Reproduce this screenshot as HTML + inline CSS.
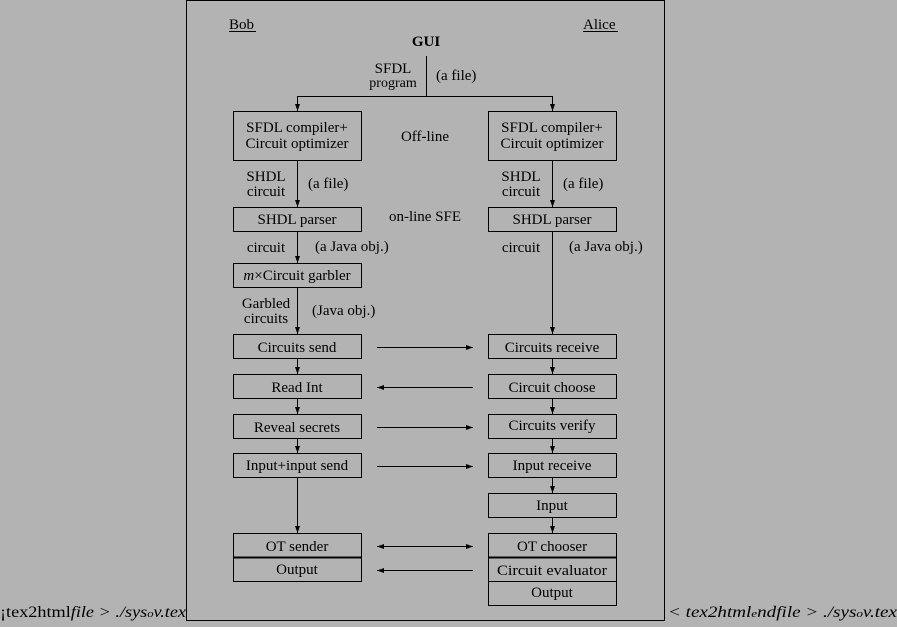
<!DOCTYPE html>
<html><head><style>
html,body{margin:0;padding:0;background:#b3b3b3;}
svg{display:block;}
text{font-family:"Liberation Serif",serif;font-size:15px;fill:#000;}
</style></head><body>
<svg width="897" height="627" viewBox="0 0 897 627" xmlns="http://www.w3.org/2000/svg">
<defs><marker id="a" markerWidth="8" markerHeight="6" refX="7" refY="3" orient="auto" markerUnits="userSpaceOnUse"><path d="M0,0.5 L7,3 L0,5.5 z" fill="#000"/></marker></defs>
<rect x="186.5" y="0.5" width="478" height="620" fill="none" stroke="#000" stroke-width="1"/>
<g stroke="#000" stroke-width="1" fill="none">
<line x1="426.5" y1="56" x2="426.5" y2="96.5"/>
<line x1="297.5" y1="96.5" x2="552.5" y2="96.5"/>
<line x1="297.5" y1="96" x2="297.5" y2="111" marker-end="url(#a)"/>
<line x1="552.5" y1="96" x2="552.5" y2="111" marker-end="url(#a)"/>
<rect x="233.5" y="111.5" width="128" height="49"/>
<rect x="488.5" y="111.5" width="128" height="49"/>
<line x1="297.5" y1="160" x2="297.5" y2="207" marker-end="url(#a)"/>
<line x1="552.5" y1="160" x2="552.5" y2="207" marker-end="url(#a)"/>
<rect x="233.5" y="207.5" width="128" height="24"/>
<rect x="488.5" y="207.5" width="128" height="24"/>
<line x1="297.5" y1="231" x2="297.5" y2="263" marker-end="url(#a)"/>
<rect x="233.5" y="263.5" width="128" height="24"/>
<line x1="297.5" y1="287" x2="297.5" y2="334" marker-end="url(#a)"/>
<line x1="552.5" y1="231" x2="552.5" y2="334" marker-end="url(#a)"/>
<rect x="233.5" y="334.5" width="128" height="24"/>
<rect x="488.5" y="334.5" width="128" height="24"/>
<rect x="233.5" y="374.5" width="128" height="24"/>
<rect x="488.5" y="374.5" width="128" height="24"/>
<rect x="233.5" y="414.5" width="128" height="24"/>
<rect x="488.5" y="414.5" width="128" height="24"/>
<rect x="233.5" y="453.5" width="128" height="24"/>
<rect x="488.5" y="453.5" width="128" height="24"/>
<rect x="488.5" y="493.5" width="128" height="24"/>
<line x1="297.5" y1="359" x2="297.5" y2="374" marker-end="url(#a)"/>
<line x1="552.5" y1="359" x2="552.5" y2="374" marker-end="url(#a)"/>
<line x1="297.5" y1="399" x2="297.5" y2="414" marker-end="url(#a)"/>
<line x1="552.5" y1="399" x2="552.5" y2="414" marker-end="url(#a)"/>
<line x1="297.5" y1="439" x2="297.5" y2="453" marker-end="url(#a)"/>
<line x1="552.5" y1="439" x2="552.5" y2="453" marker-end="url(#a)"/>
<line x1="552.5" y1="478" x2="552.5" y2="493" marker-end="url(#a)"/>
<line x1="297.5" y1="478" x2="297.5" y2="533" marker-end="url(#a)"/>
<line x1="552.5" y1="518" x2="552.5" y2="533" marker-end="url(#a)"/>
<rect x="233.5" y="533.5" width="128" height="48"/>
<line x1="233" y1="557.5" x2="362" y2="557.5" stroke-width="2"/>
<rect x="488.5" y="533.5" width="128" height="72"/>
<line x1="488" y1="557.5" x2="617" y2="557.5" stroke-width="2"/>
<line x1="488" y1="581.5" x2="617" y2="581.5"/>
<line x1="377" y1="347.5" x2="473" y2="347.5" marker-end="url(#a)"/>
<line x1="473" y1="387.5" x2="377" y2="387.5" marker-end="url(#a)"/>
<line x1="377" y1="427.5" x2="473" y2="427.5" marker-end="url(#a)"/>
<line x1="377" y1="466.5" x2="473" y2="466.5" marker-end="url(#a)"/>
<line x1="377" y1="546.5" x2="473" y2="546.5" marker-end="url(#a)"/>
<line x1="473" y1="570.5" x2="377" y2="570.5" marker-end="url(#a)"/>
<line x1="473" y1="546.5" x2="377" y2="546.5" marker-end="url(#a)"/>
<line x1="229" y1="31.5" x2="256" y2="31.5"/>
<line x1="583" y1="31.5" x2="618" y2="31.5"/>
</g>
<text x="229" y="29">Bob</text>
<text x="583" y="29">Alice</text>
<text x="426" y="46" text-anchor="middle" font-weight="bold">GUI</text>
<text x="393" y="73" text-anchor="middle">SFDL</text>
<text x="393" y="87" text-anchor="middle" style="font-size:14px">program</text>
<text x="436" y="80">(a file)</text>
<text x="297" y="132" text-anchor="middle">SFDL compiler+</text>
<text x="297" y="148" text-anchor="middle">Circuit optimizer</text>
<text x="552" y="132" text-anchor="middle">SFDL compiler+</text>
<text x="552" y="148" text-anchor="middle">Circuit optimizer</text>
<text x="425" y="141" text-anchor="middle">Off-line</text>
<text x="266" y="181" text-anchor="middle">SHDL</text>
<text x="266" y="196" text-anchor="middle">circuit</text>
<text x="308" y="188">(a file)</text>
<text x="521" y="181" text-anchor="middle">SHDL</text>
<text x="521" y="196" text-anchor="middle">circuit</text>
<text x="563" y="188">(a file)</text>
<text x="297" y="224" text-anchor="middle">SHDL parser</text>
<text x="552" y="224" text-anchor="middle">SHDL parser</text>
<text x="425" y="221" text-anchor="middle">on-line SFE</text>
<text x="266" y="252" text-anchor="middle">circuit</text>
<text x="315" y="251">(a Java obj.)</text>
<text x="521" y="252" text-anchor="middle">circuit</text>
<text x="569" y="251">(a Java obj.)</text>
<text x="297" y="280" text-anchor="middle"><tspan font-style="italic">m</tspan>×Circuit garbler</text>
<text x="266" y="308" text-anchor="middle">Garbled</text>
<text x="266" y="323" text-anchor="middle">circuits</text>
<text x="312" y="315">(Java obj.)</text>
<text x="297" y="352" text-anchor="middle">Circuits send</text>
<text x="552" y="352" text-anchor="middle">Circuits receive</text>
<text x="297" y="392" text-anchor="middle">Read Int</text>
<text x="552" y="392" text-anchor="middle">Circuit choose</text>
<text x="297" y="432" text-anchor="middle">Reveal secrets</text>
<text x="552" y="430" text-anchor="middle">Circuits verify</text>
<text x="297" y="470" text-anchor="middle">Input+input send</text>
<text x="552" y="470" text-anchor="middle">Input receive</text>
<text x="552" y="510" text-anchor="middle">Input</text>
<text x="297" y="551" text-anchor="middle">OT sender</text>
<text x="297" y="574" text-anchor="middle">Output</text>
<text x="552" y="551" text-anchor="middle">OT chooser</text>
<text x="552" y="575" text-anchor="middle" textLength="110" lengthAdjust="spacingAndGlyphs">Circuit evaluator</text>
<text x="552" y="597" text-anchor="middle">Output</text>
<text x="0" y="617" style="font-size:16px" textLength="186" lengthAdjust="spacingAndGlyphs">¡tex2html<tspan font-style="italic">file &gt; ./sys</tspan><tspan font-style="italic" style="font-size:11px">o</tspan><tspan font-style="italic">v.tex</tspan></text>
<text x="668" y="617" font-style="italic" style="font-size:16px" textLength="229" lengthAdjust="spacingAndGlyphs">&lt; tex2html<tspan style="font-size:11px">e</tspan>ndfile &gt; ./sys<tspan style="font-size:11px">o</tspan>v.tex</text>
</svg>
</body></html>
